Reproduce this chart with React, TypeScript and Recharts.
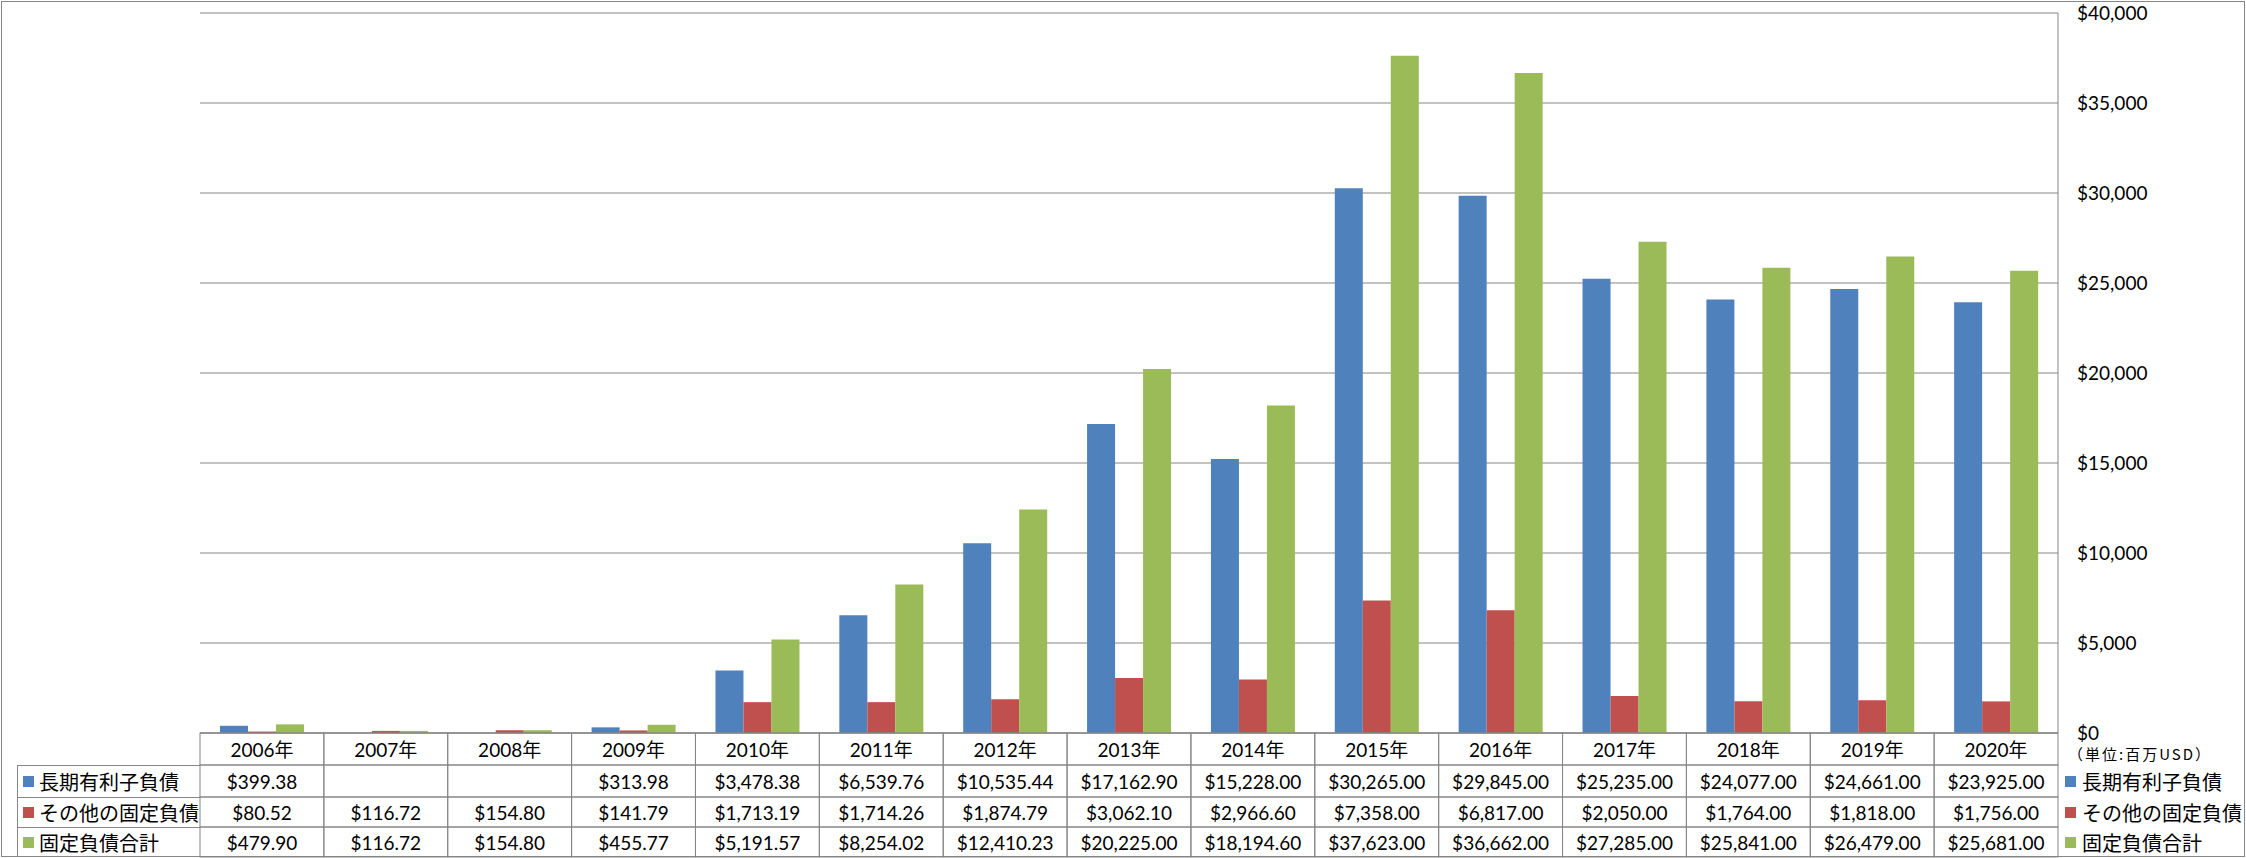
import { BarChart, Bar, XAxis, YAxis, CartesianGrid } from 'recharts';

const years = ['2006年', '2007年', '2008年', '2009年', '2010年', '2011年', '2012年', '2013年', '2014年', '2015年', '2016年', '2017年', '2018年', '2019年', '2020年'];
const longTermDebt = [399.38, null, null, 313.98, 3478.38, 6539.76, 10535.44, 17162.9, 15228, 30265, 29845, 25235, 24077, 24661, 23925];
const otherFixed = [80.52, 116.72, 154.8, 141.79, 1713.19, 1714.26, 1874.79, 3062.1, 2966.6, 7358, 6817, 2050, 1764, 1818, 1756];
const totalFixed = [479.9, 116.72, 154.8, 455.77, 5191.57, 8254.02, 12410.23, 20225, 18194.6, 37623, 36662, 27285, 25841, 26479, 25681];
const yTicks = [0, 5000, 10000, 15000, 20000, 25000, 30000, 35000, 40000];
const unitLabel = '（単位:百万USD）';

const series = [
  { key: 'debt', name: '長期有利子負債', color: '#4F81BD', values: longTermDebt },
  { key: 'other', name: 'その他の固定負債', color: '#C0504D', values: otherFixed },
  { key: 'total', name: '固定負債合計', color: '#9BBB59', values: totalFixed },
];

const data = years.map((year, i) => {
  const row: Record<string, string | number | null> = { year };
  series.forEach((s) => (row[s.key] = s.values[i]));
  return row;
});

const GRID = '#868686';
const NUM_FONT = "Lato, 'Noto Sans CJK JP', sans-serif";
const JP_FONT = "'Noto Sans CJK JP', sans-serif";
const NUM_SIZE = 19;
const ROW_H = [32, 32, 30, 30];

const money = (v: number) => `$${v.toLocaleString('en-US', { minimumFractionDigits: 2, maximumFractionDigits: 2 })}`;

// one column of the data table under each category
function TableColumn(props: any) {
  const { x, y, payload, index } = props;
  const colW = (props.width || 1858) / years.length;
  const left = x - colW / 2;
  const tops = ROW_H.map((_, i) => y + ROW_H.slice(0, i).reduce((a, b) => a + b, 0));
  return (
    <g>
      {ROW_H.map((h, r) => (
        <rect key={r} x={left} y={tops[r]} width={colW} height={h} fill="none" stroke={GRID} strokeWidth={1} />
      ))}
      <text x={x} y={tops[0] + ROW_H[0] / 2} textAnchor="middle" dominantBaseline="central" fontSize={NUM_SIZE} fontFamily={NUM_FONT} fill="#000">
        {payload.value}
      </text>
      {series.map((s, r) => {
        const v = s.values[index];
        return v == null ? null : (
          <text key={s.key} x={x} y={tops[r + 1] + ROW_H[r + 1] / 2} textAnchor="middle" dominantBaseline="central" fontSize={NUM_SIZE} fontFamily={NUM_FONT} fill="#000">
            {money(v)}
          </text>
        );
      })}
    </g>
  );
}

const rowTops = [765, 797, 827];

export default function App() {
  return (
    <div style={{ position: 'fixed', left: 0, top: 0, width: 2246, height: 858, background: '#fff' }}>
      <div style={{ position: 'absolute', left: 1, top: 1, width: 2242, height: 854, border: `1px solid ${GRID}` }} />
      <BarChart
        width={2246}
        height={858}
        data={data}
        margin={{ top: 13, left: 200, right: 0, bottom: 0 }}
        barGap={0}
        barSize={28}
        style={{ position: 'absolute', left: 0, top: 0 }}
      >
        <CartesianGrid vertical={false} stroke={GRID} strokeWidth={1} />
        <XAxis
          dataKey="year"
          height={125}
          interval={0}
          tickSize={0}
          tickMargin={0}
          axisLine={{ stroke: GRID }}
          tick={<TableColumn />}
        />
        <YAxis
          orientation="right"
          width={188}
          domain={[0, 40000]}
          ticks={yTicks}
          interval={0}
          tickSize={0}
          tickMargin={19}
          axisLine={{ stroke: GRID }}
          tickLine={false}
          tickFormatter={(v: number) => `$${v.toLocaleString('en-US')}`}
          tick={{ fontSize: NUM_SIZE, fontFamily: NUM_FONT, fill: '#000' }}
        />
        {series.map((s) => (
          <Bar key={s.key} dataKey={s.key} name={s.name} fill={s.color} isAnimationActive={false} />
        ))}
      </BarChart>
      {/* row headers of the data table */}
      <div style={{ position: 'absolute', left: 17, top: 765, width: 183, height: 92, borderLeft: `1px solid ${GRID}`, borderBottom: `1px solid ${GRID}`, boxSizing: 'border-box' }} />
      {series.map((s, r) => (
        <div key={s.key} style={{ position: 'absolute', left: 17, top: rowTops[r], width: 183, height: ROW_H[r + 1], display: 'flex', alignItems: 'center', borderTop: `1px solid ${GRID}`, boxSizing: 'border-box' }}>
          <span style={{ width: 11, height: 11, background: s.color, marginLeft: 6, marginRight: 5 }} />
          <span style={{ fontFamily: JP_FONT, fontSize: 20, color: '#000', whiteSpace: 'nowrap' }}>{s.name}</span>
        </div>
      ))}
      {/* legend on the right */}
      <div style={{ position: 'absolute', left: 2068, top: 744, fontFamily: JP_FONT, fontSize: 15, letterSpacing: 2, color: '#000', whiteSpace: 'nowrap', lineHeight: '20px' }}>{unitLabel}</div>
      {series.map((s, r) => (
        <div key={s.key} style={{ position: 'absolute', left: 2065, top: rowTops[r], height: ROW_H[r + 1], display: 'flex', alignItems: 'center' }}>
          <span style={{ width: 11, height: 11, background: s.color, marginRight: 6 }} />
          <span style={{ fontFamily: JP_FONT, fontSize: 20, color: '#000', whiteSpace: 'nowrap' }}>{s.name}</span>
        </div>
      ))}
    </div>
  );
}
